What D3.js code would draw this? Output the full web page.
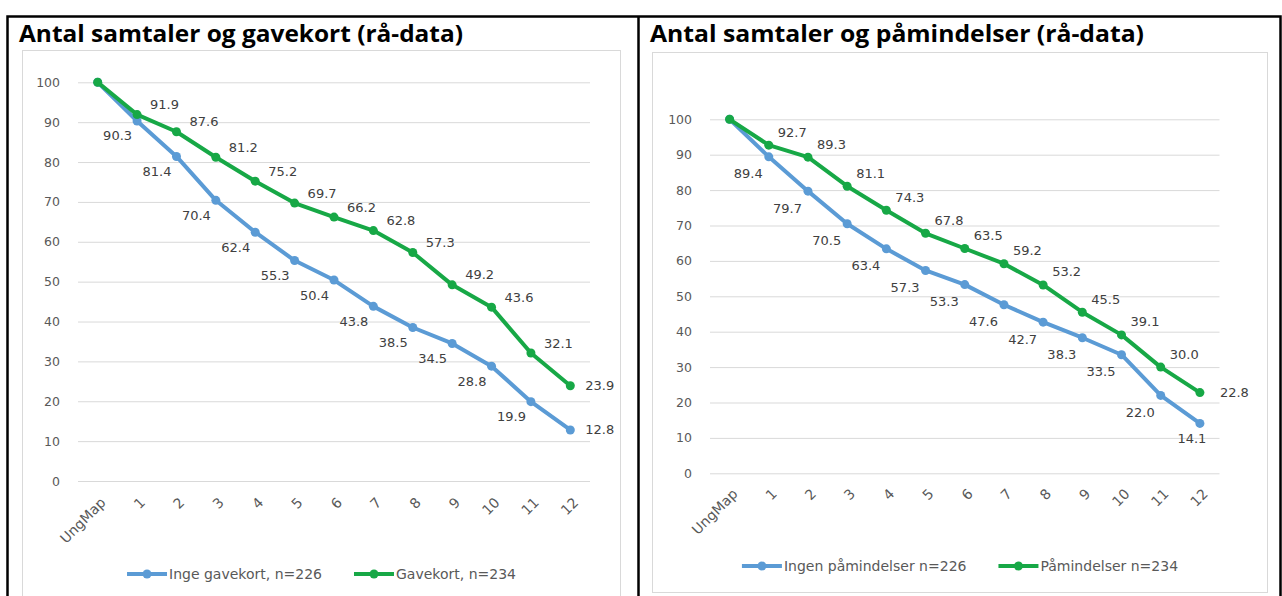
<!DOCTYPE html>
<html>
<head>
<meta charset="utf-8">
<script src="https://cdn.jsdelivr.net/npm/d3@7"></script>
<style>
    html, body { margin: 0; padding: 0; background: #fff; overflow: hidden; }
    svg { display: block; }
</style>
</head>
<body>
<svg id="chart" width="1282" height="596"></svg>
<script>
// categories and values
var categories = ["UngMap", "1", "2", "3", "4", "5", "6", "7", "8", "9", "10", "11", "12"]
var yTicks = [0, 10, 20, 30, 40, 50, 60, 70, 80, 90, 100]

var ingeGavekort = [100, 90.3, 81.4, 70.4, 62.4, 55.3, 50.4, 43.8, 38.5, 34.5, 28.8, 19.9, 12.8]
var gavekort = [100, 91.9, 87.6, 81.2, 75.2, 69.7, 66.2, 62.8, 57.3, 49.2, 43.6, 32.1, 23.9]
var ingenPaamindelser = [100, 89.4, 79.7, 70.5, 63.4, 57.3, 53.3, 47.6, 42.7, 38.3, 33.5, 22.0, 14.1]
var paamindelser = [100, 92.7, 89.3, 81.1, 74.3, 67.8, 63.5, 59.2, 53.2, 45.5, 39.1, 30.0, 22.8]

var titles = ["Antal samtaler og gavekort (rå-data)", "Antal samtaler og påmindelser (rå-data)"]
var seriesNamesLeft = ["Inge gavekort, n=226", "Gavekort, n=234"]
var seriesNamesRight = ["Ingen påmindelser n=226", "Påmindelser n=234"]

var blue = "#5B9BD5",
    green = "#17A846",
    font = "'DejaVu Sans', sans-serif"

var svg = d3.select("#chart")

// black table frame around both charts
svg.append("rect")
    .attr("x", 7.5).attr("y", 16.5)
    .attr("width", 1273).attr("height", 620)
    .attr("fill", "none").attr("stroke", "#000").attr("stroke-width", 2.5)
svg.append("line")
    .attr("x1", 638.5).attr("x2", 638.5)
    .attr("y1", 16).attr("y2", 596)
    .attr("stroke", "#000").attr("stroke-width", 2.5)

function drawPanel(cfg) {
    var g = svg.append("g")

    g.append("text")
        .attr("x", cfg.titleX).attr("y", 42)
        .attr("font-family", "'Open Sans', sans-serif")
        .attr("font-weight", 700)
        .attr("font-size", 22.5)
        .attr("textLength", cfg.titleLen)
        .attr("lengthAdjust", "spacingAndGlyphs")
        .text(cfg.title)

    g.append("rect")
        .attr("x", cfg.box[0]).attr("y", cfg.box[1])
        .attr("width", cfg.box[2]).attr("height", cfg.box[3])
        .attr("fill", "#fff").attr("stroke", "#D9D9D9")

    var x = d3.scalePoint()
        .domain(categories)
        .range([cfg.x0, cfg.x1])
        .padding(0.5)

    var y = d3.scaleLinear()
        .domain([0, 100])
        .range([cfg.y0, cfg.y1])

    // y axis + gridlines
    var yAxis = g.append("g")
        .attr("transform", "translate(" + cfg.x0 + ",0)")
        .call(d3.axisLeft(y).tickValues(yTicks).tickSize(-(cfg.x1 - cfg.x0)).tickPadding(18))
    yAxis.select(".domain").remove()
    yAxis.selectAll(".tick line").attr("stroke", "#D9D9D9")
    yAxis.selectAll(".tick text")
        .attr("fill", "#595959")
        .attr("font-family", font)
        .attr("font-size", 12.5)

    // x axis labels, rotated
    var xAxis = g.append("g")
        .attr("transform", "translate(0," + cfg.y0 + ")")
        .call(d3.axisBottom(x).tickSize(0).tickPadding(0))
    xAxis.select(".domain").remove()
    xAxis.selectAll(".tick text")
        .attr("fill", "#595959")
        .attr("font-family", font)
        .attr("font-size", 14)
        .attr("text-anchor", "end")
        .attr("dy", "0.35em")
        .attr("transform", "translate(5," + cfg.xlabY + ") rotate(-45)")

    var line = d3.line()
        .x(function (d, i) { return x(categories[i]) })
        .y(function (d) { return y(d) })

    cfg.series.forEach(function (s) {
        g.append("path")
            .datum(s.values)
            .attr("d", line)
            .attr("fill", "none")
            .attr("stroke", s.color)
            .attr("stroke-width", 4)
            .attr("stroke-linejoin", "round")
            .attr("stroke-linecap", "round")

        g.selectAll(null)
            .data(s.values)
            .enter()
            .append("circle")
            .attr("cx", function (d, i) { return x(categories[i]) })
            .attr("cy", function (d) { return y(d) })
            .attr("r", 4.5)
            .attr("fill", s.color)
    })

    // data labels (no label on the 100 start point)
    cfg.series.forEach(function (s) {
        var last = s.values.length - 1
        g.selectAll(null)
            .data(s.values.slice(1))
            .enter()
            .append("text")
            .attr("font-family", font)
            .attr("font-size", 13)
            .attr("fill", "#404040")
            .text(function (d) { return d.toFixed(1) })
            .each(function (d, j) {
                var i = j + 1,
                    px = x(categories[i]),
                    py = y(d),
                    t = d3.select(this)
                var pos = i == last ? s.lastPos : s.pos
                if (pos == "right") {
                    t.attr("x", px + cfg.rightGap).attr("y", py + 4.5).attr("text-anchor", "start")
                } else if (pos == "below") {
                    t.attr("x", px - 8).attr("y", py + 19.5).attr("text-anchor", "middle")
                } else if (pos == "above") {
                    t.attr("x", px + s.dx).attr("y", py + s.dy + 4.5).attr("text-anchor", "start")
                } else {
                    t.attr("x", px + s.dx).attr("y", py + s.dy + 4.5).attr("text-anchor", "end")
                }
            })
    })

    // legend, centred in the chart box
    var legend = g.append("g")
    var cursor = 0
    cfg.series.forEach(function (s, k) {
        var item = legend.append("g").attr("transform", "translate(" + cursor + ",0)")
        item.append("line")
            .attr("x1", 0).attr("x2", 40)
            .attr("stroke", s.color).attr("stroke-width", 4)
        item.append("circle")
            .attr("cx", 20).attr("r", 4.5).attr("fill", s.color)
        var txt = item.append("text")
            .attr("x", 42).attr("dy", "0.35em")
            .attr("font-family", font)
            .attr("font-size", 14)
            .attr("fill", "#595959")
            .text(s.name)
        cursor += 42 + txt.node().getComputedTextLength() + 32
    })
    var total = cursor - 32
    var cx = cfg.box[0] + cfg.box[2] / 2
    legend.attr("transform", "translate(" + (cx - total / 2) + "," + cfg.legendY + ")")
}

drawPanel({
    title: titles[0], titleX: 19, titleLen: 444,
    box: [22.5, 50.5, 598, 600],
    x0: 78, x1: 590, y0: 481, y1: 82.3, xlabY: 19,
    legendY: 574, rightGap: 15,
    series: [
        { name: seriesNamesLeft[0], values: ingeGavekort, color: blue, pos: "left", lastPos: "right", dx: -5, dy: 15 },
        { name: seriesNamesLeft[1], values: gavekort, color: green, pos: "above", lastPos: "right", dx: 13, dy: -10 }
    ]
})

drawPanel({
    title: titles[1], titleX: 650, titleLen: 494,
    box: [652.5, 52.5, 615, 540],
    x0: 710, x1: 1219.5, y0: 473.3, y1: 119.3, xlabY: 18,
    legendY: 566, rightGap: 20,
    series: [
        { name: seriesNamesRight[0], values: ingenPaamindelser, color: blue, pos: "left", lastPos: "below", dx: -6, dy: 17 },
        { name: seriesNamesRight[1], values: paamindelser, color: green, pos: "above", lastPos: "right", dx: 9, dy: -13 }
    ]
})
</script>
</body>
</html>
